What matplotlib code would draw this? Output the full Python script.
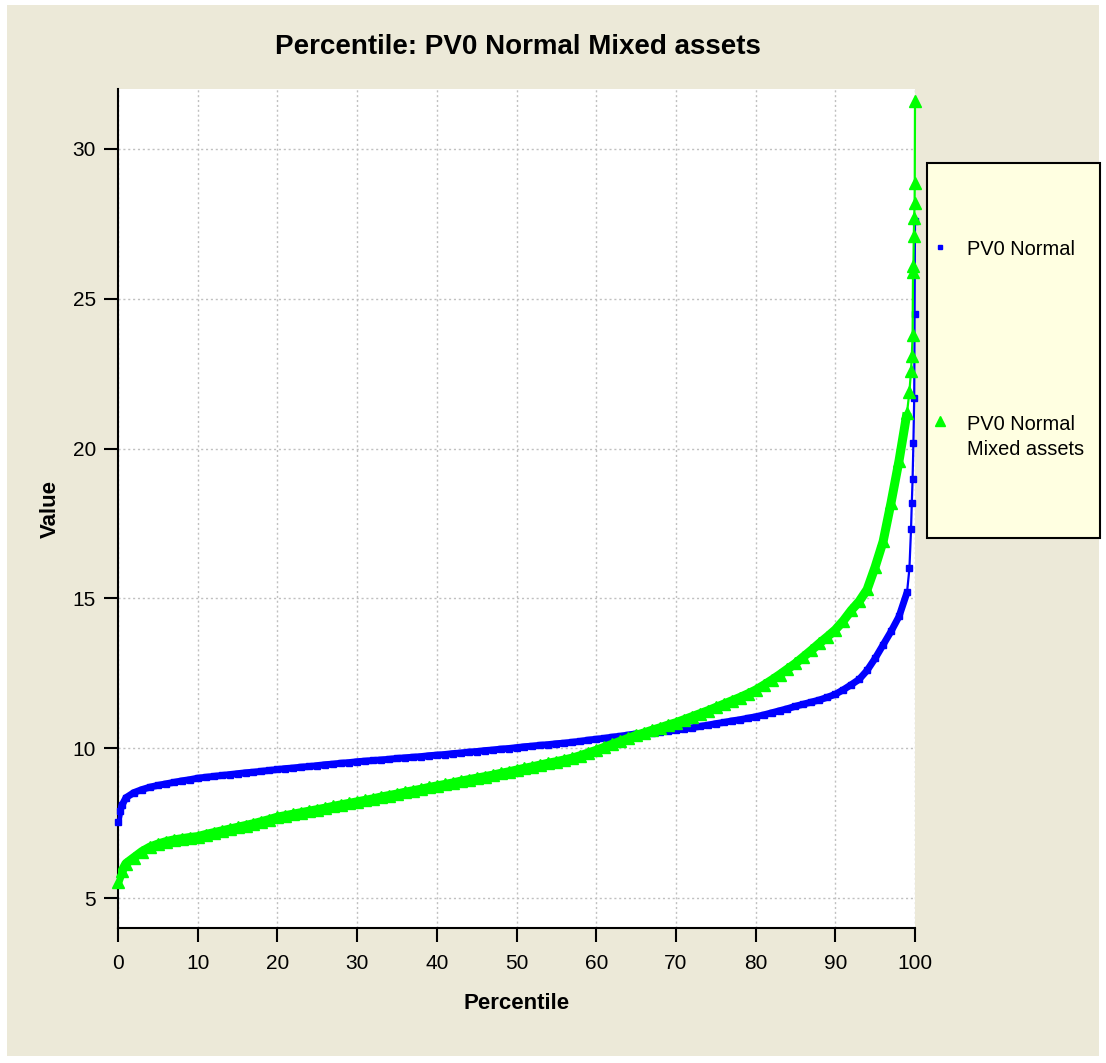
import matplotlib
matplotlib.use("Agg")
import matplotlib.pyplot as plt
from matplotlib.patches import Rectangle
from matplotlib.lines import Line2D

plt.rcParams['font.family'] = ['Liberation Sans', 'DejaVu Sans']

title = "Percentile: PV0 Normal Mixed assets"
x_label = "Percentile"
y_label = "Value"
series_names = ["PV0 Normal", "PV0 Normal\nMixed assets"]
x_ticks = [0, 10, 20, 30, 40, 50, 60, 70, 80, 90, 100]
y_ticks = [5, 10, 15, 20, 25, 30]

blue_pct = [0, 0.25, 0.5] + list(range(1, 100)) + [99.3, 99.5, 99.6, 99.7, 99.8, 99.9, 99.95, 100]
blue_val = [7.54, 7.90, 8.10,
            8.35, 8.52, 8.62, 8.70, 8.76, 8.81, 8.86, 8.91, 8.95, 9.00,
            9.03, 9.06, 9.09, 9.12, 9.15, 9.18, 9.20, 9.23, 9.26, 9.29,
            9.32, 9.34, 9.37, 9.39, 9.42, 9.45, 9.47, 9.50, 9.52, 9.55,
            9.57, 9.59, 9.61, 9.63, 9.66, 9.68, 9.70, 9.72, 9.75, 9.77,
            9.79, 9.82, 9.84, 9.87, 9.89, 9.92, 9.94, 9.97, 9.99, 10.02,
            10.05, 10.07, 10.10, 10.12, 10.15, 10.17, 10.20, 10.23, 10.27, 10.30,
            10.33, 10.37, 10.40, 10.44, 10.48, 10.50, 10.52, 10.55, 10.57, 10.60,
            10.64, 10.68, 10.73, 10.77, 10.82, 10.86, 10.91, 10.95, 11.00, 11.05,
            11.11, 11.18, 11.25, 11.32, 11.40, 11.47, 11.54, 11.61, 11.70, 11.80,
            11.95, 12.12, 12.30, 12.60, 13.00, 13.45, 13.90, 14.40, 15.20,
            16.0, 17.3, 18.2, 19.0, 20.2, 21.7, 24.5, 27.6]

green_pct = [0, 0.5] + list(range(1, 100)) + [99.3, 99.5, 99.6, 99.7, 99.75, 99.8, 99.85, 99.9, 99.95, 99.97, 100]
green_val = [5.54, 5.90,
             6.15, 6.35, 6.55, 6.70, 6.80, 6.88, 6.94, 6.98, 7.02, 7.05,
             7.12, 7.18, 7.24, 7.30, 7.36, 7.42, 7.48, 7.55, 7.62, 7.70,
             7.75, 7.80, 7.85, 7.90, 7.95, 8.00, 8.06, 8.11, 8.16, 8.21,
             8.26, 8.31, 8.37, 8.42, 8.47, 8.53, 8.58, 8.63, 8.69, 8.74,
             8.79, 8.84, 8.90, 8.95, 9.00, 9.05, 9.10, 9.16, 9.21, 9.27,
             9.33, 9.38, 9.44, 9.50, 9.55, 9.61, 9.67, 9.75, 9.84, 9.93,
             10.03, 10.13, 10.23, 10.33, 10.43, 10.51, 10.60, 10.68, 10.77, 10.85,
             10.95, 11.05, 11.15, 11.25, 11.36, 11.47, 11.58, 11.69, 11.81, 11.94,
             12.10, 12.27, 12.45, 12.64, 12.83, 13.05, 13.27, 13.50, 13.72, 13.95,
             14.25, 14.60, 14.90, 15.30, 16.05, 16.90, 18.20, 19.60, 21.20,
             21.9, 22.6, 23.1, 23.8, 25.9, 26.1, 27.1, 27.7, 28.2, 28.85, 31.6]

BLUE = '#0000FF'
GREEN = '#00FF00'

W, H = 1106, 1063
fig = plt.figure(figsize=(W / 100, H / 100), dpi=100)
fig.patch.set_facecolor('white')
fig.patches.append(Rectangle((7 / W, 7 / H), (W - 14) / W, (H - 12) / H,
                             transform=fig.transFigure, facecolor='#ECE9D8',
                             edgecolor='none', zorder=-10))

ax = fig.add_axes([118 / W, (H - 928) / H, 797 / W, 839 / H])
ax.set_zorder(1)
ax.set_facecolor('white')

# dense body of each curve: markers overlap into a thick band
nb = blue_pct.index(99)
ng = green_pct.index(99)
ax.plot(blue_pct[:nb + 1], blue_val[:nb + 1], color=BLUE, lw=5,
        solid_capstyle='butt', zorder=3)
ax.plot(blue_pct, blue_val, color=BLUE, lw=1.6, marker='s', ms=4,
        mec=BLUE, mfc=BLUE, clip_on=False, zorder=4)
ax.plot(green_pct[:ng + 1], green_val[:ng + 1], color=GREEN, lw=6.5,
        solid_capstyle='butt', zorder=5)
ax.plot(green_pct, green_val, color=GREEN, lw=1.6, marker='^', ms=8,
        mec=GREEN, mfc=GREEN, clip_on=False, zorder=6)

ax.set_xlim(0, 100)
ax.set_ylim(4, 32)
ax.set_xticks(x_ticks)
ax.set_yticks(y_ticks)
ax.grid(True, color='#C0C0C0', linestyle=(0, (1.5, 2)), linewidth=1)
ax.set_axisbelow(True)
for s in ['top', 'right']:
    ax.spines[s].set_visible(False)
for s in ['left', 'bottom']:
    ax.spines[s].set_linewidth(1.5)
    ax.spines[s].set_color('black')
ax.tick_params(direction='out', length=10, width=1.5, labelsize=15, pad=6)
ax.tick_params(axis='x', pad=9)

ax.set_xlabel(x_label, fontsize=16, fontweight='bold', labelpad=14)
ax.set_ylabel(y_label, fontsize=16, fontweight='bold', labelpad=8)
fig.text(518 / W, 1 - 47 / H, title, fontsize=20, fontweight='bold',
         ha='center', va='center')

# legend box
fig.patches.append(Rectangle((927 / W, 1 - 538 / H), 173 / W, 375 / H,
                             transform=fig.transFigure, facecolor='#FFFFE1',
                             edgecolor='black', linewidth=1.5, zorder=2))
fig.lines.append(Line2D([939.5 / W], [1 - 247 / H], transform=fig.transFigure,
                        marker='s', ms=3.5, color=BLUE, ls='none', zorder=3))
fig.lines.append(Line2D([940 / W], [1 - 421 / H], transform=fig.transFigure,
                        marker='^', ms=7, color=GREEN, ls='none', zorder=3))
fig.text(967 / W, 1 - 249 / H, series_names[0], fontsize=14.4, ha='left', va='center', zorder=3)
fig.text(967 / W, 1 - 437 / H, series_names[1], fontsize=14.4, ha='left', va='center',
         zorder=3, linespacing=1.35)

fig.savefig('out.png', dpi=100, facecolor=fig.get_facecolor())
